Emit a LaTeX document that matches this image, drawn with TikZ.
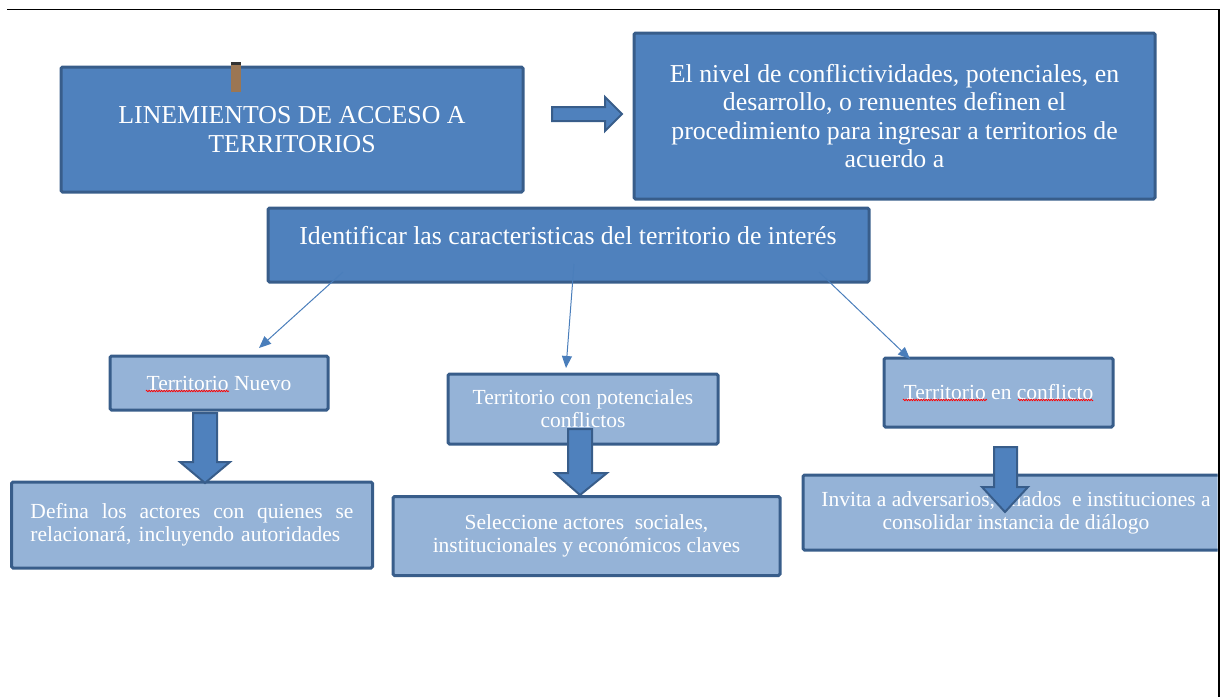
\documentclass[tikz,border=0pt]{standalone}
\usepackage{fontspec}
\setmainfont{Liberation Serif}
\usetikzlibrary{arrows.meta,decorations.pathmorphing}
\definecolor{topfill}{HTML}{4F81BD}
\definecolor{lowfill}{HTML}{95B3D7}
\definecolor{edgecol}{HTML}{385D8A}
\definecolor{thincol}{HTML}{4A7EBB}
\definecolor{tabcol}{HTML}{9B7653}
\begin{document}
\begin{tikzpicture}[x=1pt,y=-1pt,
 topbox/.style={draw=edgecol, fill=topfill, line width=3pt, rounded corners=1.5pt, text=white, align=center, inner sep=0pt, font=\fontsize{25.8}{28.5}\selectfont},
 lowbox/.style={draw=edgecol, fill=lowfill, line width=3pt, rounded corners=1.5pt, text=white, align=center, inner sep=0pt, font=\fontsize{21.5}{23}\selectfont},
 link/.style={draw=thincol, line width=1pt, -{Triangle[length=12pt,width=10pt]}},
 blk/.style={draw=edgecol, fill=topfill, line width=2pt, line join=miter},
 spell/.style={draw=red, line width=0.7pt, decorate, decoration={zigzag, segment length=2.5pt, amplitude=0.8pt}}]
\useasboundingbox (0,0) rectangle (1224,697);
\begin{scope}
\clip (0,0) rectangle (1217.5,697);
% top boxes
\node[topbox, minimum width=462pt, minimum height=125pt] (A) at (292,129.5) {LINEMIENTOS DE ACCESO A\\TERRITORIOS};
\node[topbox, minimum width=521pt, minimum height=166pt] (B) at (894.5,116) {El nivel de conflictividades, potenciales, en\\desarrollo, o renuentes definen el\\procedimiento para ingresar a territorios de\\acuerdo a};
\node[topbox, minimum width=601pt, minimum height=74pt] (C) at (568.5,245) {};
\node[text=white, font=\fontsize{25.8}{28.5}\selectfont, inner sep=0pt] (Ct) at (568,236) {Identificar las caracteristicas del territorio de interés};
% brown tab
\fill[tabcol] (231,64) rectangle (241,92);
\fill[black!80] (231,62) rectangle (241,65);
% lower boxes
\node[lowbox, minimum width=218pt, minimum height=54pt] (D) at (219,383) {Territorio Nuevo};
\node[lowbox, minimum width=270pt, minimum height=70pt] (E) at (583,409) {Territorio con potenciales\\conflictos};
\node[lowbox, minimum width=229pt, minimum height=69pt] (F) at (998.5,392.5) {Territorio en conflicto};
\node[lowbox, text width=323pt, inner xsep=19pt, minimum height=86pt, align=left] (G) at (192,525) {Defina\hfill los\hfill actores\hfill con\hfill quienes\hfill se\\relacionará, incluyendo autoridades};
\node[lowbox, minimum width=387pt, minimum height=79pt] (H) at (586.5,536) {Seleccione actores\ \ sociales,\\institucionales y económicos claves};
\node[lowbox, minimum width=426pt, minimum height=75pt] (I) at (1016,512.5) {Invita a adversarios, aliados\ \ e instituciones a\\consolidar instancia de diálogo};
% spell-check underlines
\draw[spell] (146,391) -- (229,391);
\draw[spell] (903,400) -- (987,400);
\draw[spell] (1018,400) -- (1093,400);
% thin connectors
\coordinate (c1) at (343,272);
\coordinate (c2) at (574,264);
\coordinate (c3) at (819,272);
\coordinate (d1) at (259,348);
\coordinate (e1) at (566,368);
\coordinate (f1) at (910,359);
\draw[link] (c1) -- (d1);
\draw[link] (c2) -- (e1);
\draw[link] (c3) -- (f1);
% block arrows
\draw[blk] (552,107) -- (605,107) -- (605,97) -- (622,114) -- (605,131) -- (605,121) -- (552,121) -- cycle;
\draw[blk] (193,413) -- (217,413) -- (217,462) -- (230,462) -- (205,483) -- (180,462) -- (193,462) -- cycle;
\draw[blk] (568,429) -- (592,429) -- (592,473) -- (607,473) -- (580,495) -- (555,473) -- (568,473) -- cycle;
\draw[blk] (994,447) -- (1017,447) -- (1017,487) -- (1028,487) -- (1005,512) -- (982,487) -- (994,487) -- cycle;
\end{scope}
% page frame
\draw[black, line width=1.5pt] (7,9.5) -- (1219.5,9.5);
\draw[black, line width=2pt] (1219,9) -- (1219,697);
\end{tikzpicture}
\end{document}
